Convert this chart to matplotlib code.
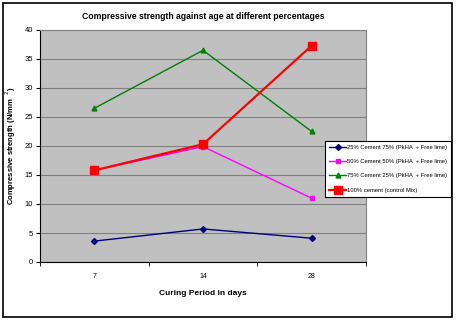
import matplotlib.pyplot as plt
import numpy as np

plt.rcParams['font.family'] = ['Liberation Sans', 'DejaVu Sans']

days = ['7', '14', '28']
c25 = [3.6, 5.7, 4.1]
c50 = [15.8, 19.9, 11.0]
c75 = [26.5, 36.5, 22.5]
c100 = [15.8, 20.3, 37.3]

labels = ['25% Cement 75% (PkHA  + Free lime)',
          '50% Cement 50% (PkHA  + Free lime)',
          '75% Cement 25% (PkHA  + Free lime)',
          '100% cement (control Mix)']

fig = plt.figure(figsize=(4.59, 3.22), dpi=100)
# outer chart border
fig.patches.append(plt.Rectangle((0.007, 0.016), 0.978, 0.976, transform=fig.transFigure,
                                 fill=False, edgecolor='black', linewidth=1.2))
ax = fig.add_axes([40 / 459, 1 - 262 / 322, 326 / 459, 232 / 322])
ax.set_facecolor('#C0C0C0')

x = np.arange(len(days))
ax.plot(x, c25, color='#000080', marker='D', markersize=3, linewidth=1, label=labels[0])
ax.plot(x, c50, color='#FF00FF', marker='s', markersize=3, linewidth=1, label=labels[1])
ax.plot(x, c75, color='#008000', marker='^', markersize=3.5, linewidth=1, label=labels[2])
ax.plot(x, c100, color='#FF0000', marker='s', markersize=5.5, linewidth=1.6, label=labels[3])

ax.set_xlim(-0.5, 2.5)
ax.set_ylim(0, 40)
ax.set_yticks(range(0, 41, 5))
ax.set_xticks(x)
ax.set_xticklabels(days, fontsize=5)
ax.set_xticks([-0.5, 0.5, 1.5, 2.5], minor=True)
ax.tick_params(axis='x', which='major', length=0, pad=8)
ax.tick_params(axis='x', which='minor', length=3, direction='out')
ax.tick_params(axis='y', labelsize=5.5, length=3, direction='out', pad=2)
ax.yaxis.grid(True, color='#808080', linewidth=0.8)
ax.set_axisbelow(True)

for s in ['top', 'right']:
    ax.spines[s].set_color('#808080')
for s in ['left', 'bottom']:
    ax.spines[s].set_color('black')

ax.set_title('Compressive strength against age at different percentages',
             fontsize=6.2, fontweight='bold', pad=8)
ax.set_xlabel('Curing Period in days', fontsize=6, fontweight='bold', labelpad=7)
ax.set_ylabel('Compressive strength (N/mm  $^{2}$)', fontsize=5.5, fontweight='bold', labelpad=5)

leg = fig.legend(loc='upper right', bbox_to_anchor=(451 / 459, 1 - 141 / 322), fontsize=4.2,
                 frameon=True, fancybox=False, edgecolor='black', framealpha=1,
                 handlelength=2.8, labelspacing=1.55, borderpad=0.7, handletextpad=0.2,
                 borderaxespad=0)
leg.get_frame().set_linewidth(0.8)

fig.savefig('out.png', dpi=100)
